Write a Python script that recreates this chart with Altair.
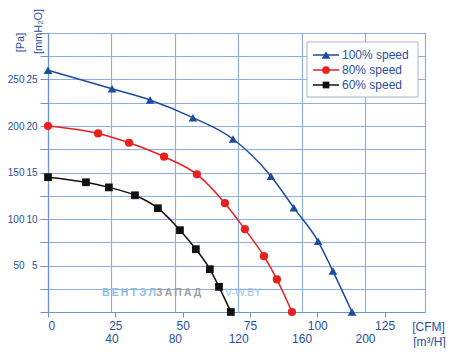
import altair as alt
import pandas as pd

SERIES = ["100%  speed", "80%  speed", "60%  speed"]
COLORS = ["#1d4b9e", "#e8201e", "#111111"]
SHAPES = ["triangle-up", "circle", "square"]
SIZES = [75, 60, 45]

cfm_100 = [0, 23.8, 37.9, 53.8, 68.7, 82.8, 91.3, 100.3, 105.8, 112.9]
pa_100 = [260, 240, 228, 209, 186, 146, 112, 76, 44, 0]
cfm_80 = [0, 18.6, 30.1, 43.1, 55.3, 65.7, 73.1, 80.2, 85.0, 90.6]
pa_80 = [200, 192, 182, 167, 148, 117, 89, 60, 35, 0]
cfm_60 = [0, 14.1, 22.6, 32.3, 40.8, 49.0, 54.9, 60.1, 63.5, 67.9]
pa_60 = [145, 139.5, 134, 125.5, 111.6, 88, 67.6, 46, 27, 0]

CFM_TICKS = [0, 25, 50, 75, 100, 125]
M3H_TICKS = [40, 80, 120, 160, 200]
PA_TICKS = [50, 100, 150, 200, 250]
M3H_PER_CFM = 1.699
X_MAX = 140
Y_MAX = 300

rows = []
for name, xs, ys in [(SERIES[0], cfm_100, pa_100), (SERIES[1], cfm_80, pa_80), (SERIES[2], cfm_60, pa_60)]:
    for i, (a, b) in enumerate(zip(xs, ys)):
        rows.append({"series": name, "cfm": a, "pa": b, "i": i})
df = pd.DataFrame(rows)

FONT = "Liberation Sans"
LBL = "#2a4f9f"
GRID = "#8fb0da"
DOMAIN = "#6e95cb"

color = alt.Color("series:N", scale=alt.Scale(domain=SERIES, range=COLORS), legend=None)
xscale = alt.Scale(domain=[0, X_MAX], nice=False, zero=True)
yscale = alt.Scale(domain=[0, Y_MAX], nice=False, zero=True)

grid_x_vals = [m / M3H_PER_CFM for m in [0] + M3H_TICKS] + [X_MAX]

lines = alt.Chart(df).mark_line(interpolate="monotone", strokeWidth=1.5).encode(
    x=alt.X("cfm:Q", scale=xscale, axis=alt.Axis(
        orient="bottom", values=CFM_TICKS, grid=False, ticks=True, tickSize=5,
        tickColor=DOMAIN, domain=True, domainColor=DOMAIN, domainWidth=1.2,
        labelPadding=3, labelFontSize=12, labelColor=LBL, labelFont=FONT,
        title="[CFM]", titleX=380, titleY=14, titleBaseline="middle", titleAlign="center",
        titleFontWeight="normal", titleFontSize=12, titleColor=LBL, titleFont=FONT)),
    y=alt.Y("pa:Q", scale=yscale, axis=alt.Axis(
        orient="left", values=list(range(0, 301, 25)), grid=True, gridColor=GRID, gridWidth=1.2,
        ticks=True, tickSize=8, tickColor=DOMAIN, domain=True, domainColor=DOMAIN, domainWidth=1.2,
        labelExpr="(datum.value % 50 == 0 && datum.value > 0 && datum.value < 300) ? format(datum.value / 10, 'd') : ''",
        labelPadding=3, labelFontSize=10, labelColor=LBL, labelFont=FONT,
        title="[mmH\u2082O]", titleAngle=270, titleX=-10, titleY=-2, titleBaseline="middle",
        titleAlign="center", titleFontWeight="normal", titleFontSize=11, titleColor=LBL, titleFont=FONT)),
    color=color,
    detail="series:N",
    order="i:Q",
)

points = alt.Chart(df).mark_point(filled=True, opacity=1).encode(
    x=alt.X("cfm:Q", scale=xscale, axis=alt.Axis(
        orient="bottom", values=grid_x_vals, grid=True, gridColor=GRID, gridWidth=1.2,
        ticks=False, tickSize=0, domain=False,
        labelExpr=f"(datum.value > 1 && datum.value < {X_MAX - 1}) ? format(datum.value * {M3H_PER_CFM}, '.0f') : ''",
        labelPadding=21, labelFontSize=12, labelColor=LBL, labelFont=FONT,
        title="[m\u00b3/H]", titleX=381, titleY=29, titleBaseline="middle", titleAlign="center",
        titleFontWeight="normal", titleFontSize=12, titleColor=LBL, titleFont=FONT)),
    y=alt.Y("pa:Q", scale=yscale, axis=alt.Axis(
        orient="left", values=PA_TICKS, grid=False, ticks=False, tickSize=0, domain=False,
        labelPadding=24, labelFontSize=10, labelColor=LBL, labelFont=FONT,
        title="[Pa]", titleAngle=270, titleX=-28, titleY=9, titleBaseline="middle",
        titleAlign="center", titleFontWeight="normal", titleFontSize=11, titleColor=LBL, titleFont=FONT)),
    color=color,
    shape=alt.Shape("series:N", scale=alt.Scale(domain=SERIES, range=SHAPES), legend=None),
    size=alt.Size("series:N", scale=alt.Scale(domain=SERIES, range=SIZES), legend=None),
)

dummy = alt.Data(values=[{"k": 1}])

# watermark
wm = [
    ("\u0412\u2009\u0415\u2009\u041d\u2009\u0422\u2009\u042d\u2009\u041b", 54, "#8dbde6", "bold"),
    ("\u0417\u2009\u0410\u2009\u041f\u2009\u0410\u2009\u0414", 108, "#a0a0a0", "bold"),
    ("V-W.BY", 177, "#9cc4e8", "normal"),
]
wm_layers = [
    alt.Chart(dummy).mark_text(text=t, align="left", baseline="middle", fontSize=10.5,
                               font=FONT, fontWeight=w, color=c).encode(
        x=alt.value(xp), y=alt.value(260))
    for t, xp, c, w in wm
]

# legend
box = alt.Chart(dummy).mark_rect(fill="white", stroke="#aab6cc", strokeWidth=1).encode(
    x=alt.value(259), x2=alt.value(370), y=alt.value(9), y2=alt.value(64))
leg_layers = [box]
for i, (name, col, shp, sz) in enumerate(zip(SERIES, COLORS, SHAPES, SIZES)):
    yy = 22 + 15 * i
    leg_layers.append(alt.Chart(dummy).mark_rule(color=col, strokeWidth=1.5).encode(
        x=alt.value(265), x2=alt.value(291), y=alt.value(yy)))
    leg_layers.append(alt.Chart(dummy).mark_point(filled=True, opacity=1, color=col, shape=shp, size=sz).encode(
        x=alt.value(278), y=alt.value(yy)))
    leg_layers.append(alt.Chart(dummy).mark_text(text=name, align="left", baseline="middle",
                                                 fontSize=12, font=FONT, color=LBL).encode(
        x=alt.value(294), y=alt.value(yy)))

chart = alt.layer(lines, points, *wm_layers, *leg_layers).resolve_axis(
    x="independent", y="independent"
).properties(
    width=377, height=279,
    autosize=alt.AutoSizeParams(type="none"),
    padding={"left": 40, "top": 25, "right": 22, "bottom": 36},
).configure_view(stroke=None).configure(background="white")

chart.save("out.html", embed_options={"renderer": "svg", "actions": False})
